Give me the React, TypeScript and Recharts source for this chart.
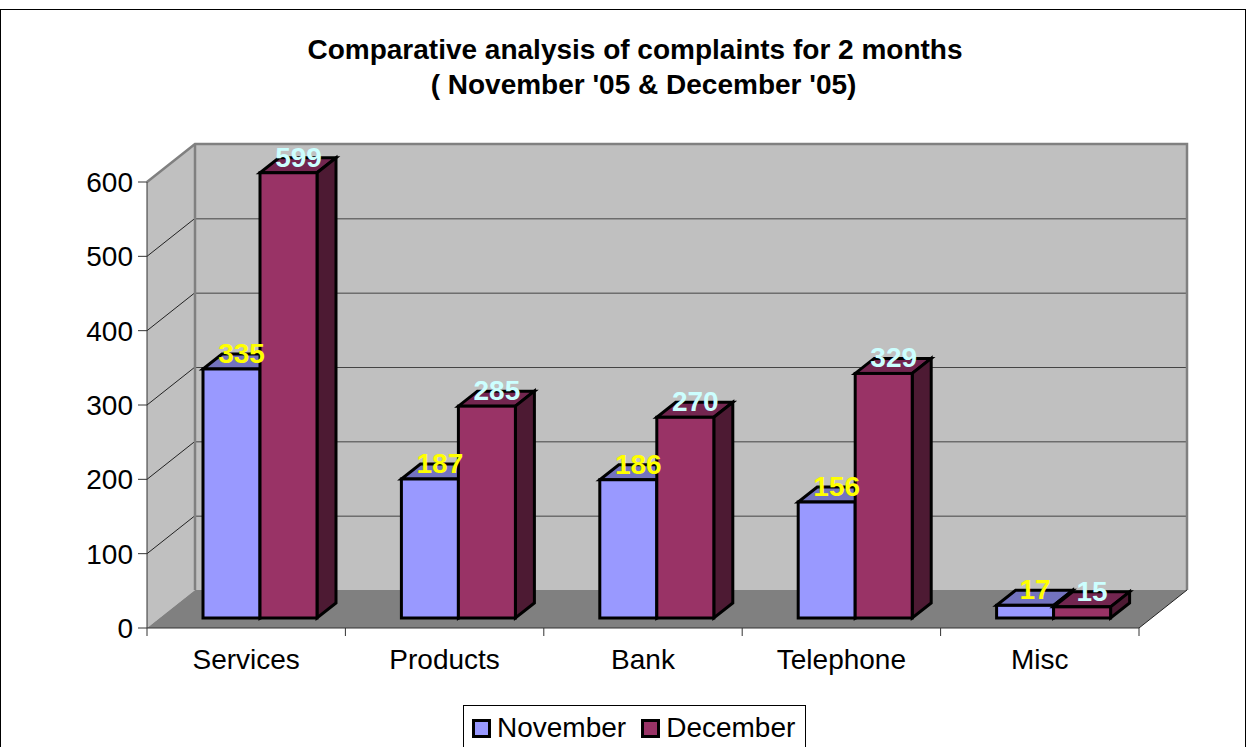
import { BarChart, Bar, XAxis, YAxis, ReferenceArea, LabelList, Legend } from 'recharts';

const categories = ['Services', 'Products', 'Bank', 'Telephone', 'Misc'];
const november = [335, 187, 186, 156, 17];
const december = [599, 285, 270, 329, 15];
const yTicks = [0, 100, 200, 300, 400, 500, 600];

const rows = categories.map((name, i) => ({ name, november: november[i], december: december[i] }));

const FONT = '"Liberation Sans", Arial, sans-serif';
const WALL_DX = 48;
const WALL_DY = 38;
const BAR_DX = 14;
const BAR_DY = 10;
const DEPTH_X = 19;
const DEPTH_Y = 15;

function Walls({ x, y, width, height }: any) {
  const bottom = y + height;
  const right = x + width;
  const step = width / categories.length;
  return (
    <g>
      <polygon points={`${x},${bottom} ${x},${y} ${x + WALL_DX},${y - WALL_DY} ${x + WALL_DX},${bottom - WALL_DY}`} fill="#c0c0c0" />
      <rect x={x + WALL_DX} y={y - WALL_DY} width={width} height={height} fill="#c0c0c0" />
      <polygon points={`${x},${bottom} ${right},${bottom} ${right + WALL_DX},${bottom - WALL_DY} ${x + WALL_DX},${bottom - WALL_DY}`} fill="#808080" />
      {yTicks.slice(1, -1).map((t) => {
        const ty = bottom - (height * t) / 600;
        return (
          <g key={t}>
            <line x1={x} y1={ty} x2={x + WALL_DX} y2={ty - WALL_DY} stroke="#222" strokeWidth={1} />
            <line x1={x + WALL_DX} y1={ty - WALL_DY + 0.5} x2={right + WALL_DX} y2={ty - WALL_DY + 0.5} stroke="#444" strokeWidth={1} />
          </g>
        );
      })}
      <polyline
        points={`${x},${y} ${x + WALL_DX},${y - WALL_DY} ${right + WALL_DX},${y - WALL_DY} ${right + WALL_DX},${bottom - WALL_DY}`}
        fill="none"
        stroke="#808080"
        strokeWidth={2.5}
      />
      <line x1={x + WALL_DX} y1={y - WALL_DY} x2={x + WALL_DX} y2={bottom - WALL_DY} stroke="#808080" strokeWidth={2.5} />
      <line x1={right} y1={bottom} x2={right + WALL_DX} y2={bottom - WALL_DY} stroke="#222" strokeWidth={1} />
      {categories.map((_, i) => (
        <line key={i} x1={x + step * i} y1={bottom} x2={x + step * i} y2={bottom + 8} stroke="#333" strokeWidth={1} />
      ))}
      <line x1={right} y1={bottom} x2={right} y2={bottom + 8} stroke="#333" strokeWidth={1} />
    </g>
  );
}

function Box3D({ x, y, width, height, front, top, side }: any) {
  const l = x + BAR_DX;
  const r = l + width;
  const t = y - BAR_DY;
  const b = t + height;
  return (
    <g stroke="#000" strokeWidth={3} strokeLinejoin="miter">
      <polygon points={`${l},${t} ${r},${t} ${r + DEPTH_X},${t - DEPTH_Y} ${l + DEPTH_X},${t - DEPTH_Y}`} fill={top} />
      <polygon points={`${r},${t} ${r + DEPTH_X},${t - DEPTH_Y} ${r + DEPTH_X},${b - DEPTH_Y} ${r},${b}`} fill={side} />
      <rect x={l} y={t} width={width} height={height} fill={front} />
    </g>
  );
}

const makeLabel = (color: string) => ({ x, y, width, value }: any) => (
  <text
    x={x + BAR_DX + width / 2 + 10}
    y={y - BAR_DY - 6}
    textAnchor="middle"
    fontFamily={FONT}
    fontWeight="bold"
    fontSize={28}
    fill={color}
  >
    {value}
  </text>
);

function LegendBox() {
  const items = [
    { label: 'November', color: '#9999ff' },
    { label: 'December', color: '#993366' },
  ];
  return (
    <div
      style={{
        boxSizing: 'border-box',
        width: 343,
        height: 60,
        border: '1px solid #000',
        background: '#fff',
        display: 'flex',
        alignItems: 'flex-start',
        paddingLeft: 8,
        paddingTop: 7,
        fontFamily: FONT,
        fontSize: 28,
        lineHeight: '30px',
        color: '#000',
      }}
    >
      {items.map((it) => (
        <div key={it.label} style={{ display: 'flex', alignItems: 'center', marginRight: 15 }}>
          <span
            style={{
              boxSizing: 'border-box',
              width: 19,
              height: 19,
              border: '3px solid #000',
              background: it.color,
              marginRight: 6,
            }}
          />
          {it.label}
        </div>
      ))}
    </div>
  );
}

export default function App() {
  return (
    <div style={{ position: 'fixed', left: 0, top: 0, width: 1259, height: 747, overflow: 'hidden', background: '#fff' }}>
      <div
        style={{
          position: 'absolute',
          left: 0,
          top: 9,
          width: 1246,
          height: 800,
          border: '1px solid #000',
          boxSizing: 'border-box',
        }}
      />
      <div
        style={{
          position: 'absolute',
          left: 0,
          top: 32,
          width: 1270,
          textAlign: 'center',
          fontFamily: FONT,
          fontWeight: 'bold',
          fontSize: 28,
          lineHeight: '35px',
          color: '#000',
        }}
      >
        <div>Comparative analysis of complaints for 2 months</div>
        <div style={{ paddingLeft: 17 }}>( November '05 &amp; December '05)</div>
      </div>
      <BarChart
        width={1259}
        height={747}
        data={rows}
        margin={{ top: 182, right: 120, bottom: 19, left: 87 }}
        barSize={57}
        barGap={0}
        style={{ position: 'absolute', left: 0, top: 0 }}
      >
        <ReferenceArea y1={0} y2={600} ifOverflow="visible" shape={<Walls />} />
        <XAxis
          dataKey="name"
          height={40}
          tickLine={false}
          tickMargin={15}
          axisLine={{ stroke: '#333' }}
          tick={{ fontFamily: FONT, fontSize: 28, fill: '#000' }}
        />
        <YAxis
          width={60}
          domain={[0, 600]}
          ticks={yTicks}
          tickSize={9}
          tickMargin={5}
          axisLine={{ stroke: '#333' }}
          tickLine={{ stroke: '#333' }}
          tick={{ fontFamily: FONT, fontSize: 28, fill: '#000' }}
        />
        <Bar
          dataKey="november"
          isAnimationActive={false}
          shape={(p: any) => <Box3D {...p} front="#9999ff" top="#7373bf" side="#7373bf" />}
        >
          <LabelList dataKey="november" content={makeLabel('#ffff00')} />
        </Bar>
        <Bar
          dataKey="december"
          isAnimationActive={false}
          shape={(p: any) => <Box3D {...p} front="#993366" top="#732650" side="#4d1a33" />}
        >
          <LabelList dataKey="december" content={makeLabel('#ccffff')} />
        </Bar>
        <Legend
          content={<LegendBox />}
          wrapperStyle={{ position: 'absolute', left: 463, top: 705, width: 343, bottom: 'auto' }}
        />
      </BarChart>
    </div>
  );
}
